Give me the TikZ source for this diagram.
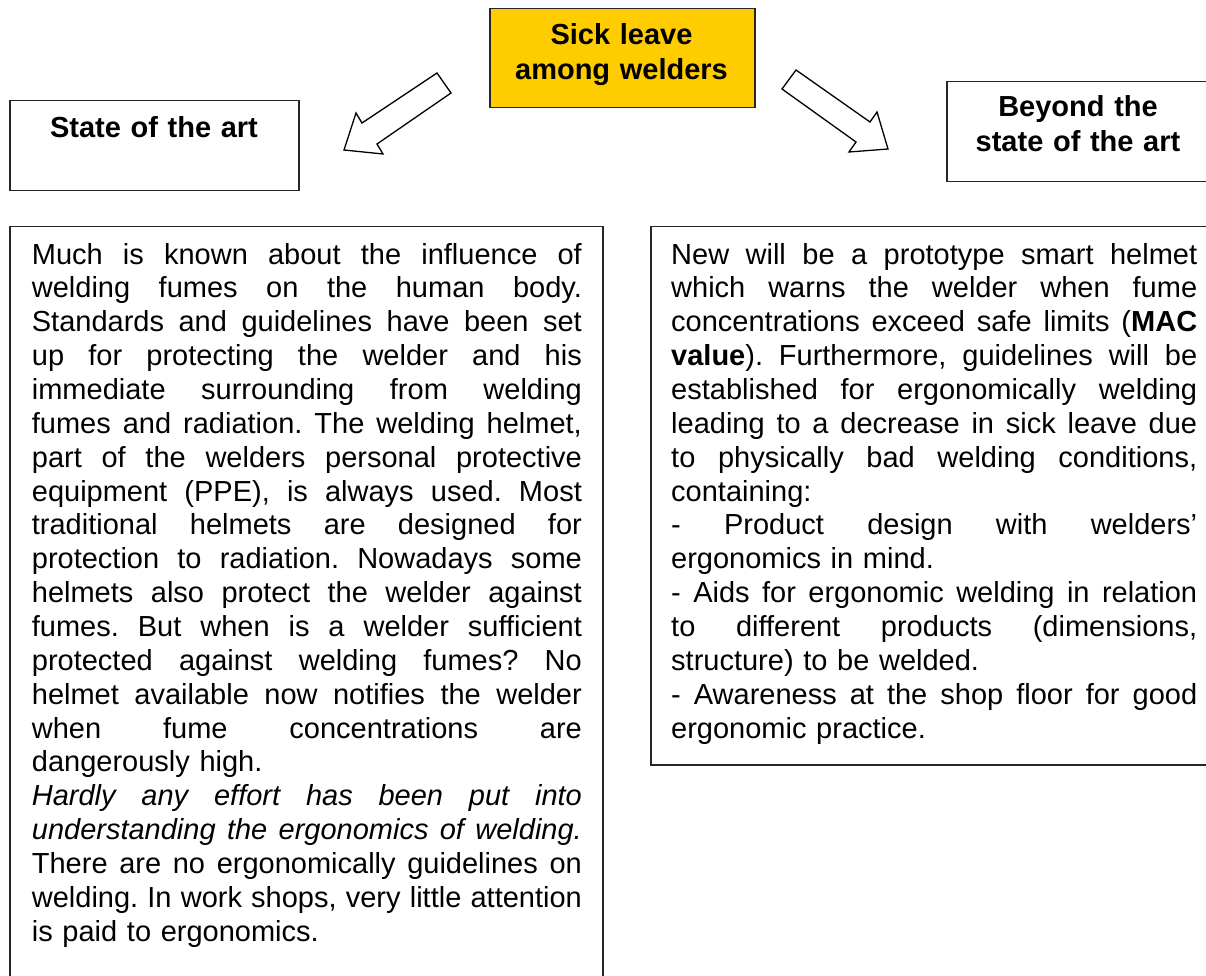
\documentclass[tikz,border=0pt]{standalone}
\usepackage{fontspec}
\setmainfont{Liberation Sans}
\definecolor{gold}{HTML}{FFCC00}
\newcommand\jl[1]{\noindent\hbox to\hsize{\spaceskip=\fontdimen2\font plus 1fil\relax #1}\par}
\newcommand\nl[1]{\noindent #1\par}
\frenchspacing
\begin{document}
\begin{tikzpicture}[x=1pt,y=-1pt,
  box/.style={draw=black!85, line width=1.5pt, inner sep=0pt, anchor=north west},
  head/.style={font=\bfseries\fontsize{29}{34.5}\selectfont, text width=300pt, align=center, inner sep=0pt, anchor=base},
  body/.style={font=\fontsize{29}{33.86}\selectfont\frenchspacing, inner sep=0pt, anchor=base west},
  barrow/.style={draw=black, fill=white, line width=1.3pt, line join=miter}]
\useasboundingbox (0,0) rectangle (1206,976);
\fill[white] (0,0) rectangle (1206,976);
\clip (0,0) rectangle (1206,976);

% boxes
\node[box, fill=gold, minimum width=265pt, minimum height=99pt] (sick) at (489,8) {};
\node[box, minimum width=289pt, minimum height=90pt] (state) at (9,100) {};
\node[box, minimum width=266pt, minimum height=100pt] (beyond) at (946,81) {};
\node[box, minimum width=593pt, minimum height=800pt] (left) at (9,226) {};
\node[box, minimum width=562pt, minimum height=538pt] (right) at (650,226) {};

% headings
\node[head] (sicktxt) at (621.5,45) {Sick leave\\among welders};
\node[head] (statetxt) at (154,138) {State of the art};
\node[head] (beyondtxt) at (1078,117) {Beyond the\\state of the art};

% block arrows
\draw[barrow] (437,73) -- (362,123) -- (356,113) -- (344,150) -- (383,154) -- (377,144) -- (451,93) -- cycle;
\draw[barrow] (796,70) -- (870,122) -- (877,112) -- (888,149) -- (849,152) -- (856,142) -- (782,89) -- cycle;

% body texts
\node[body, text width=550pt] (lefttxt) at (31.7,264) {%
\jl{Much is known about the influence of}
\jl{welding fumes on the human body.}
\jl{Standards and guidelines have been set}
\jl{up for protecting the welder and his}
\jl{immediate surrounding from welding}
\jl{fumes and radiation. The welding helmet,}
\jl{part of the welders personal protective}
\jl{equipment (PPE), is always used. Most}
\jl{traditional helmets are designed for}
\jl{protection to radiation. Nowadays some}
\jl{helmets also protect the welder against}
\jl{fumes. But when is a welder sufficient}
\jl{protected against welding fumes? No}
\jl{helmet available now notifies the welder}
\jl{when fume concentrations are}
\nl{dangerously high.}
\jl{\itshape Hardly any effort has been put into}
\jl{\itshape understanding the ergonomics of welding.}
\jl{There are no ergonomically guidelines on}
\jl{welding. In work shops, very little attention}
\nl{is paid to ergonomics.}};

\node[body, text width=526pt] (righttxt) at (671,264) {%
\jl{New will be a prototype smart helmet}
\jl{which warns the welder when fume}
\jl{concentrations exceed safe limits (\textbf{MAC}}
\jl{\textbf{value}). Furthermore, guidelines will be}
\jl{established for ergonomically welding}
\jl{leading to a decrease in sick leave due}
\jl{to physically bad welding conditions,}
\nl{containing:}
\jl{- Product design with welders’}
\nl{ergonomics in mind.}
\jl{- Aids for ergonomic welding in relation}
\jl{to different products (dimensions,}
\nl{structure) to be welded.}
\jl{- Awareness at the shop floor for good}
\nl{ergonomic practice.}};
\end{tikzpicture}
\end{document}
